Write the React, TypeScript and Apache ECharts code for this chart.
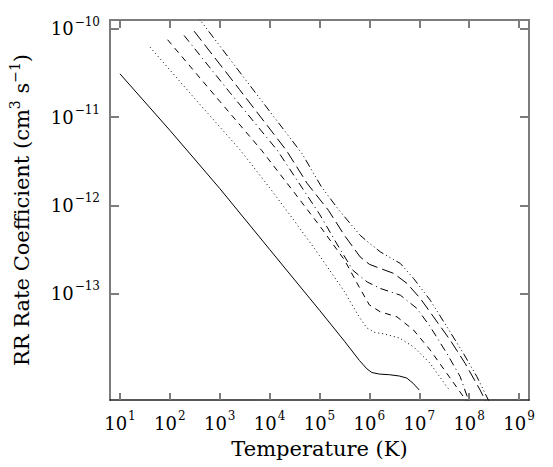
import React, { useEffect, useRef } from "react";
import * as echarts from "echarts";

// Tick values (powers of ten)
const xTickValues = [1e1, 1e2, 1e3, 1e4, 1e5, 1e6, 1e7, 1e8, 1e9];
const yTickValues = [1e-13, 1e-12, 1e-11, 1e-10];

// Axis extents
const xMin = 6.31;
const xMax = 1.585e9;
const yMin = 6.2e-15;
const yMax = 1.26e-10;

// Curves: [Temperature (K), RR rate coefficient (cm^3 s^-1)]
const curveSolid: [number, number][] = [
  [10, 3.09e-11], [100, 7.08e-12], [1e3, 1.55e-12], [1e4, 3.16e-13], [1e5, 6.46e-14],
  [3.16e5, 2.88e-14], [6.31e5, 1.74e-14], [8.91e5, 1.4e-14], [1.12e6, 1.27e-14],
  [1.58e6, 1.22e-14], [2.51e6, 1.2e-14], [3.98e6, 1.16e-14], [5.62e6, 1.1e-14],
  [7.59e6, 9.55e-15], [1e7, 8.04e-15],
];
const curveDotted: [number, number][] = [
  [40, 6.21e-11], [316, 1.62e-11], [2.61e3, 4.19e-12], [1e4, 1.58e-12], [3.16e4, 6.61e-13],
  [1e5, 2.69e-13], [3.16e5, 1.05e-13], [6.31e5, 5.37e-14], [8.91e5, 4.07e-14],
  [1.26e6, 3.63e-14], [2.0e6, 3.47e-14], [3.98e6, 3.13e-14], [7.69e6, 2.48e-14],
  [1.66e7, 1.61e-14], [3.58e7, 8.75e-15], [4.0e7, 8.13e-15],
];
const curveDashed: [number, number][] = [
  [90, 7.53e-11], [1e3, 1.51e-11], [6.92e3, 4.19e-12], [3.16e4, 1.38e-12], [1e5, 5.89e-13],
  [3.16e5, 2.4e-13], [6.31e5, 1.17e-13], [1e6, 7.41e-14], [1.66e6, 6.19e-14],
  [3.58e6, 5.43e-14], [7.69e6, 3.85e-14], [1.66e7, 2.28e-14], [3.58e7, 1.24e-14],
  [7.69e7, 6.75e-15], [9.0e7, 5.89e-15],
];
const curveDashDot: [number, number][] = [
  [193, 8.41e-11], [1.58e3, 1.91e-11], [1.43e4, 4.19e-12], [1e5, 7.94e-13], [2.47e5, 3.31e-13],
  [4.72e5, 1.82e-13], [9.04e5, 1.35e-13], [1.66e6, 1.14e-13], [4.17e6, 9.57e-14],
  [9.0e6, 6.76e-14], [1.66e7, 4.19e-14], [3.58e7, 2.09e-14], [6.61e7, 1.14e-14],
  [9.68e7, 6.19e-15], [1.26e8, 4.68e-15],
];
const curveLongDash: [number, number][] = [
  [306, 9.42e-11], [2.51e3, 2.04e-11], [2.16e4, 4.2e-12], [5.7e4, 1.76e-12], [1.51e5, 8.77e-13],
  [3.15e5, 4.57e-13], [6.52e5, 2.6e-13], [1e6, 2.14e-13], [1.66e6, 1.92e-13],
  [3.06e6, 1.69e-13], [5.68e6, 1.3e-13], [1.05e7, 8.77e-14], [1.93e7, 5.43e-14],
  [4.17e7, 2.96e-14], [8.32e7, 1.61e-14], [1.66e8, 8.04e-15], [2.09e8, 6.19e-15],
  [2.51e8, 5.01e-15],
];
const curveDashDotDot: [number, number][] = [
  [316, 1.51e-10], [3.16e3, 2.73e-11], [4.47e4, 3.85e-12], [1.1e5, 1.61e-12], [2.47e5, 8.77e-13],
  [6.52e5, 4.57e-13], [1e6, 3.72e-13], [1.66e6, 2.96e-13], [4.17e6, 2.19e-13],
  [7.69e6, 1.48e-13], [1.66e7, 8.39e-14], [3.58e7, 4.19e-14], [7.69e7, 2.09e-14],
  [1.43e8, 1.14e-14], [2.43e8, 6.19e-15], [3.16e8, 4.79e-15],
];

const FONT = "DejaVu Serif";
const FRAME = "#7c7c7c";

function powLabel(v: number): string {
  const e = Math.round(Math.log10(v));
  const s = e < 0 ? "\u2212" + String(-e) : String(e);
  return `{b|10}{s|${s}}`;
}

const labelRich = {
  b: { fontFamily: FONT, fontSize: 18, color: "#000" },
  s: { fontFamily: FONT, fontSize: 12, color: "#000", padding: [0, 0, 14, 1] },
};

export default function App() {
  const ref = useRef<HTMLDivElement>(null);

  useEffect(() => {
    if (!ref.current) return;
    const chart = echarts.init(ref.current, null, { renderer: "svg" });

    const baseX = {
      type: "log" as const,
      logBase: 10,
      min: xMin,
      max: xMax,
      splitLine: { show: false },
      minorTick: { show: false },
    };
    const baseY = {
      type: "log" as const,
      logBase: 10,
      min: yMin,
      max: yMax,
      splitLine: { show: false },
      minorTick: { show: false },
    };

    const mk = (name: string, data: [number, number][], type: any) => ({
      name,
      type: "line",
      data,
      showSymbol: false,
      symbol: "none",
      smooth: false,
      clip: true,
      lineStyle: { color: "#000", width: 1, type, cap: "butt", join: "round" },
      z: 3,
    });

    chart.setOption({
      animation: false,
      backgroundColor: "#fff",
      grid: { left: 109, top: 20, right: 24, bottom: 67, containLabel: false },
      xAxis: [
        {
          ...baseX,
          position: "bottom",
          name: "Temperature (K)",
          nameLocation: "middle",
          nameGap: 38,
          nameTextStyle: { fontFamily: FONT, fontSize: 21, color: "#000" },
          axisLine: { show: true, lineStyle: { color: "#222", width: 1.5 } },
          axisTick: {
            show: true, inside: true, length: 7, customValues: xTickValues,
            lineStyle: { color: FRAME, width: 2 },
          },
          axisLabel: {
            show: true, margin: 10, customValues: xTickValues,
            formatter: (v: number) => powLabel(v), rich: labelRich,
          },
        },
        {
          ...baseX,
          position: "top",
          axisLine: { show: true, lineStyle: { color: FRAME, width: 2 } },
          axisTick: {
            show: true, inside: true, length: 8, customValues: xTickValues,
            lineStyle: { color: FRAME, width: 2 },
          },
          axisLabel: { show: false },
        },
      ],
      yAxis: [
        {
          ...baseY,
          position: "left",
          name: "{n|RR Rate Coefficient (cm}{s|3}{n| s}{s|\u22121}{n|)}",
          nameLocation: "middle",
          nameRotate: 90,
          nameGap: 74,
          nameTextStyle: {
            rich: {
              n: { fontFamily: FONT, fontSize: 21, color: "#000" },
              s: { fontFamily: FONT, fontSize: 14, color: "#000", padding: [0, 0, 14, 0] },
            },
          },
          axisLine: { show: true, lineStyle: { color: FRAME, width: 2 } },
          axisTick: {
            show: true, inside: true, length: 9, customValues: yTickValues,
            lineStyle: { color: FRAME, width: 2 },
          },
          axisLabel: {
            show: true, margin: 10, customValues: yTickValues,
            formatter: (v: number) => powLabel(v), rich: labelRich,
          },
        },
        {
          ...baseY,
          position: "right",
          axisLine: { show: true, lineStyle: { color: FRAME, width: 2 } },
          axisTick: {
            show: true, inside: true, length: 9, customValues: yTickValues,
            lineStyle: { color: FRAME, width: 2 },
          },
          axisLabel: { show: false },
        },
      ],
      series: [
        mk("Z1", curveSolid, "solid"),
        mk("Z2", curveDotted, [1, 3]),
        mk("Z3", curveDashed, [6, 5]),
        mk("Z4", curveDashDot, [8, 4, 1, 4]),
        mk("Z5", curveLongDash, [12, 5]),
        mk("Z6", curveDashDotDot, [8, 3, 1, 3, 1, 3, 1, 3]),
      ],
    });

    return () => chart.dispose();
  }, []);

  return (
    <div
      ref={ref}
      style={{ position: "fixed", left: 0, top: 0, width: 553, height: 467, background: "#fff" }}
    />
  );
}
